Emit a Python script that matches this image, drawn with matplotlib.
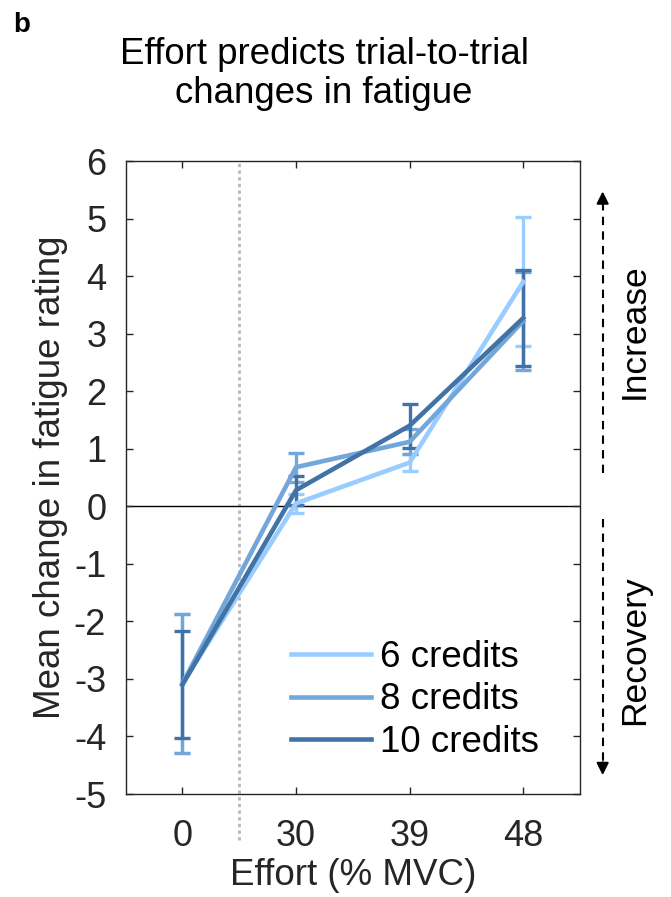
import numpy as np
import matplotlib
matplotlib.use("Agg")
import matplotlib.pyplot as plt
from matplotlib.lines import Line2D

plt.rcParams['font.family'] = ['Liberation Sans', 'DejaVu Sans']
plt.rcParams['axes.unicode_minus'] = False

effort_labels = ['0', '30', '39', '48']
series_names = ['6 credits', '8 credits', '10 credits']
means = [
    [-3.08, 0.05, 0.76, 3.90],   # 6 credits
    [-3.08, 0.68, 1.12, 3.22],   # 8 credits
    [-3.10, 0.28, 1.40, 3.27],   # 10 credits
]
errors = [
    [1.20, 0.17, 0.14, 1.12],
    [1.20, 0.25, 0.22, 0.86],
    [0.93, 0.25, 0.38, 0.84],
]
colors = ['#99CCFF', '#73A6D9', '#4173A6']
ink = '#262626'

fig = plt.figure(figsize=(6.71, 8.97), dpi=100)
ax = fig.add_axes([0.1873, 0.1148, 0.677, 0.7057])

x = np.arange(1, len(effort_labels) + 1)
for name, m, e, c in zip(series_names, means, errors, colors):
    ax.errorbar(x, m, yerr=e, color=c, lw=3.3, elinewidth=2.4,
                capsize=6, capthick=2.4)

ax.axhline(0, color='black', lw=1, zorder=1)
# separator between rest and effort conditions
ax.plot([1.5, 1.5], [-5.8, 6], ls=(0, (1.2, 1.2)), color='#b8b8b8',
        lw=2, clip_on=False, zorder=0)

ax.set_xlim(0.5, 4.5)
ax.set_ylim(-5, 6)
ax.set_xticks(x)
ax.set_xticklabels(effort_labels)
ax.set_yticks(range(-5, 7))
ax.tick_params(direction='in', top=True, right=True, length=5,
               width=1, color=ink, labelcolor=ink, labelsize=26)
ax.tick_params(axis='x', pad=18)
ax.tick_params(axis='y', pad=14)
for sp in ax.spines.values():
    sp.set_color(ink)
    sp.set_linewidth(1)

ax.set_xlabel('Effort (% MVC)', fontsize=26.5, color=ink, labelpad=3)
ax.set_ylabel('Mean change in fatigue rating', fontsize=26.5, color=ink)
ax.yaxis.set_label_coords(-0.128, 0.5)

fig.text(0.483, 1 - 103 / 897, 'Effort predicts trial-to-trial\nchanges in fatigue',
         fontsize=26.4, color='black', ha='center', va='baseline',
         linespacing=1.15)
fig.text(0.019, 1 - 32 / 897, 'b', fontsize=20, fontweight='bold',
         va='baseline')

handles = [Line2D([], [], color=c, lw=3.3) for c in colors]
ax.legend(handles, series_names, loc='lower left', frameon=False,
          fontsize=26.5, handlelength=2.17, handletextpad=0.25,
          labelspacing=0.2, borderpad=0, borderaxespad=0,
          bbox_to_anchor=(0.364, 0.054))

# direction arrows outside the right spine
ax_x = 4.70
ax.plot([ax_x, ax_x], [0.57, 5.3], ls=(0, (4, 3)), color='black', lw=1.5,
        clip_on=False)
ax.annotate('', xy=(ax_x, 5.52), xytext=(ax_x, 5.2), annotation_clip=False,
            arrowprops=dict(arrowstyle='-|>', color='black', lw=1.5,
                            mutation_scale=18))
ax.plot([ax_x, ax_x], [-0.22, -4.5], ls=(0, (4, 3)), color='black', lw=1.5,
        clip_on=False)
ax.annotate('', xy=(ax_x, -4.72), xytext=(ax_x, -4.4), annotation_clip=False,
            arrowprops=dict(arrowstyle='-|>', color='black', lw=1.5,
                            mutation_scale=18))
ax.text(4.98, 3.05, 'Increase', rotation=90, fontsize=25.5, color='black',
        ha='center', va='center', clip_on=False)
ax.text(4.98, -2.5, 'Recovery', rotation=90, fontsize=25.5, color='black',
        ha='center', va='center', clip_on=False)

fig.savefig('out.png', dpi=100)
